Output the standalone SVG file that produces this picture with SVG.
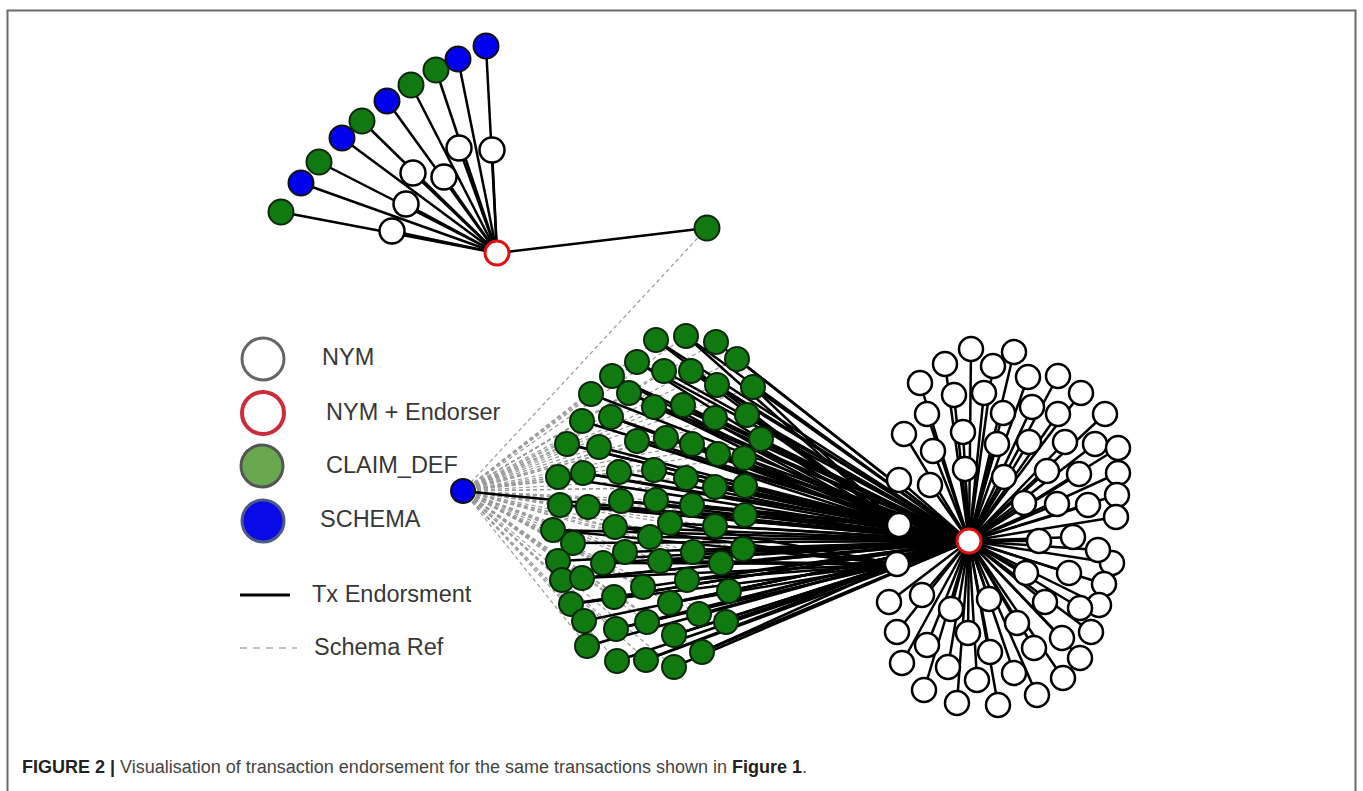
<svg xmlns="http://www.w3.org/2000/svg" width="1363" height="791" viewBox="0 0 1363 791">
<style>
.e{stroke:#000;stroke-width:2.5}
.d{stroke:#999;stroke-width:1.2;stroke-dasharray:4 3;fill:none}
.g{fill:#107a10;stroke:#0c260c;stroke-width:2}
.b{fill:#0000ee;stroke:#111;stroke-width:2}
.w{fill:#fff;stroke:#000;stroke-width:2.5}
.r{fill:#fff;stroke:#e01010;stroke-width:3}
.lt{font-family:"Liberation Sans",Arial,sans-serif;font-size:23.5px;fill:#383838}
.cap{font-family:"Liberation Sans",Arial,sans-serif;font-size:18px;fill:#444}
</style>
<rect width="1363" height="791" fill="#fff"/>
<path d="M7.5 791V10.5H1355.5V791" fill="none" stroke="#6a6a6a" stroke-width="2"/>
<g id="connectors">
<g id="schema-refs">
<line class="d" x1="707" y1="228" x2="463" y2="491"/>
<line class="d" x1="463" y1="491" x2="656" y2="340"/><line class="d" x1="463" y1="491" x2="686" y2="336"/><line class="d" x1="463" y1="491" x2="716" y2="342"/><line class="d" x1="463" y1="491" x2="637" y2="362"/><line class="d" x1="463" y1="491" x2="664" y2="371"/><line class="d" x1="463" y1="491" x2="691" y2="371"/><line class="d" x1="463" y1="491" x2="737" y2="359"/><line class="d" x1="463" y1="491" x2="612" y2="376"/><line class="d" x1="463" y1="491" x2="717" y2="385"/><line class="d" x1="463" y1="491" x2="753" y2="387"/><line class="d" x1="463" y1="491" x2="591" y2="394"/><line class="d" x1="463" y1="491" x2="629" y2="393"/><line class="d" x1="463" y1="491" x2="654" y2="407"/><line class="d" x1="463" y1="491" x2="683" y2="405"/><line class="d" x1="463" y1="491" x2="582" y2="421"/><line class="d" x1="463" y1="491" x2="611" y2="417"/><line class="d" x1="463" y1="491" x2="715" y2="418"/><line class="d" x1="463" y1="491" x2="747" y2="415"/><line class="d" x1="463" y1="491" x2="761" y2="439"/><line class="d" x1="463" y1="491" x2="567" y2="444"/><line class="d" x1="463" y1="491" x2="599" y2="447"/><line class="d" x1="463" y1="491" x2="637" y2="441"/><line class="d" x1="463" y1="491" x2="666" y2="438"/><line class="d" x1="463" y1="491" x2="692" y2="444"/><line class="d" x1="463" y1="491" x2="718" y2="454"/><line class="d" x1="463" y1="491" x2="744" y2="458"/><line class="d" x1="463" y1="491" x2="558" y2="477"/><line class="d" x1="463" y1="491" x2="583" y2="473"/><line class="d" x1="463" y1="491" x2="619" y2="472"/><line class="d" x1="463" y1="491" x2="654" y2="470"/><line class="d" x1="463" y1="491" x2="686" y2="478"/><line class="d" x1="463" y1="491" x2="715" y2="487"/><line class="d" x1="463" y1="491" x2="745" y2="486"/><line class="d" x1="463" y1="491" x2="560" y2="505"/><line class="d" x1="463" y1="491" x2="588" y2="507"/><line class="d" x1="463" y1="491" x2="621" y2="501"/><line class="d" x1="463" y1="491" x2="656" y2="500"/><line class="d" x1="463" y1="491" x2="692" y2="505"/><line class="d" x1="463" y1="491" x2="745" y2="515"/><line class="d" x1="463" y1="491" x2="553" y2="530"/><line class="d" x1="463" y1="491" x2="573" y2="543"/><line class="d" x1="463" y1="491" x2="615" y2="527"/><line class="d" x1="463" y1="491" x2="650" y2="537"/><line class="d" x1="463" y1="491" x2="670" y2="523"/><line class="d" x1="463" y1="491" x2="715" y2="526"/><line class="d" x1="463" y1="491" x2="743" y2="549"/><line class="d" x1="463" y1="491" x2="558" y2="561"/><line class="d" x1="463" y1="491" x2="603" y2="563"/><line class="d" x1="463" y1="491" x2="625" y2="552"/><line class="d" x1="463" y1="491" x2="660" y2="561"/><line class="d" x1="463" y1="491" x2="693" y2="552"/><line class="d" x1="463" y1="491" x2="721" y2="563"/><line class="d" x1="463" y1="491" x2="562" y2="580"/><line class="d" x1="463" y1="491" x2="582" y2="578"/><line class="d" x1="463" y1="491" x2="643" y2="587"/><line class="d" x1="463" y1="491" x2="687" y2="580"/><line class="d" x1="463" y1="491" x2="729" y2="591"/><line class="d" x1="463" y1="491" x2="571" y2="604"/><line class="d" x1="463" y1="491" x2="614" y2="597"/><line class="d" x1="463" y1="491" x2="670" y2="603"/><line class="d" x1="463" y1="491" x2="699" y2="614"/><line class="d" x1="463" y1="491" x2="726" y2="622"/><line class="d" x1="463" y1="491" x2="584" y2="621"/><line class="d" x1="463" y1="491" x2="616" y2="629"/><line class="d" x1="463" y1="491" x2="647" y2="622"/><line class="d" x1="463" y1="491" x2="674" y2="635"/><line class="d" x1="463" y1="491" x2="587" y2="646"/><line class="d" x1="463" y1="491" x2="702" y2="652"/><line class="d" x1="463" y1="491" x2="617" y2="661"/><line class="d" x1="463" y1="491" x2="646" y2="660"/><line class="d" x1="463" y1="491" x2="674" y2="667"/>
</g>
<g id="top-edges">
<line class="e" x1="497" y1="253" x2="281" y2="212"/><line class="e" x1="497" y1="253" x2="301" y2="183"/><line class="e" x1="497" y1="253" x2="319" y2="162"/><line class="e" x1="497" y1="253" x2="342" y2="138"/><line class="e" x1="497" y1="253" x2="362" y2="121"/><line class="e" x1="497" y1="253" x2="387" y2="101"/><line class="e" x1="497" y1="253" x2="411" y2="85"/><line class="e" x1="497" y1="253" x2="436" y2="70"/><line class="e" x1="497" y1="253" x2="458" y2="59"/><line class="e" x1="497" y1="253" x2="486" y2="46"/>
<line class="e" x1="497" y1="253" x2="392" y2="231"/><line class="e" x1="497" y1="253" x2="406" y2="204"/><line class="e" x1="497" y1="253" x2="413" y2="173"/><line class="e" x1="497" y1="253" x2="444" y2="177"/><line class="e" x1="497" y1="253" x2="459" y2="148"/><line class="e" x1="497" y1="253" x2="492" y2="150"/>
<line class="e" x1="497" y1="253" x2="707" y2="228"/>
</g>
<g id="claim-edges">
<line class="e" x1="463" y1="491" x2="969" y2="541"/>
<line class="e" x1="656" y1="340" x2="969" y2="541"/><line class="e" x1="686" y1="336" x2="969" y2="541"/><line class="e" x1="716" y1="342" x2="969" y2="541"/><line class="e" x1="637" y1="362" x2="969" y2="541"/><line class="e" x1="664" y1="371" x2="969" y2="541"/><line class="e" x1="691" y1="371" x2="969" y2="541"/><line class="e" x1="737" y1="359" x2="969" y2="541"/><line class="e" x1="612" y1="376" x2="969" y2="541"/><line class="e" x1="717" y1="385" x2="969" y2="541"/><line class="e" x1="753" y1="387" x2="969" y2="541"/><line class="e" x1="591" y1="394" x2="969" y2="541"/><line class="e" x1="629" y1="393" x2="969" y2="541"/><line class="e" x1="654" y1="407" x2="969" y2="541"/><line class="e" x1="683" y1="405" x2="969" y2="541"/><line class="e" x1="582" y1="421" x2="969" y2="541"/><line class="e" x1="611" y1="417" x2="969" y2="541"/><line class="e" x1="715" y1="418" x2="969" y2="541"/><line class="e" x1="747" y1="415" x2="969" y2="541"/><line class="e" x1="761" y1="439" x2="969" y2="541"/><line class="e" x1="567" y1="444" x2="969" y2="541"/><line class="e" x1="599" y1="447" x2="969" y2="541"/><line class="e" x1="637" y1="441" x2="969" y2="541"/><line class="e" x1="666" y1="438" x2="969" y2="541"/><line class="e" x1="692" y1="444" x2="969" y2="541"/><line class="e" x1="718" y1="454" x2="969" y2="541"/><line class="e" x1="744" y1="458" x2="969" y2="541"/><line class="e" x1="558" y1="477" x2="969" y2="541"/><line class="e" x1="583" y1="473" x2="969" y2="541"/><line class="e" x1="619" y1="472" x2="969" y2="541"/><line class="e" x1="654" y1="470" x2="969" y2="541"/><line class="e" x1="686" y1="478" x2="969" y2="541"/><line class="e" x1="715" y1="487" x2="969" y2="541"/><line class="e" x1="745" y1="486" x2="969" y2="541"/><line class="e" x1="560" y1="505" x2="969" y2="541"/><line class="e" x1="588" y1="507" x2="969" y2="541"/><line class="e" x1="621" y1="501" x2="969" y2="541"/><line class="e" x1="656" y1="500" x2="969" y2="541"/><line class="e" x1="692" y1="505" x2="969" y2="541"/><line class="e" x1="745" y1="515" x2="969" y2="541"/><line class="e" x1="553" y1="530" x2="969" y2="541"/><line class="e" x1="573" y1="543" x2="969" y2="541"/><line class="e" x1="615" y1="527" x2="969" y2="541"/><line class="e" x1="650" y1="537" x2="969" y2="541"/><line class="e" x1="670" y1="523" x2="969" y2="541"/><line class="e" x1="715" y1="526" x2="969" y2="541"/><line class="e" x1="743" y1="549" x2="969" y2="541"/><line class="e" x1="558" y1="561" x2="969" y2="541"/><line class="e" x1="603" y1="563" x2="969" y2="541"/><line class="e" x1="625" y1="552" x2="969" y2="541"/><line class="e" x1="660" y1="561" x2="969" y2="541"/><line class="e" x1="693" y1="552" x2="969" y2="541"/><line class="e" x1="721" y1="563" x2="969" y2="541"/><line class="e" x1="562" y1="580" x2="969" y2="541"/><line class="e" x1="582" y1="578" x2="969" y2="541"/><line class="e" x1="643" y1="587" x2="969" y2="541"/><line class="e" x1="687" y1="580" x2="969" y2="541"/><line class="e" x1="729" y1="591" x2="969" y2="541"/><line class="e" x1="571" y1="604" x2="969" y2="541"/><line class="e" x1="614" y1="597" x2="969" y2="541"/><line class="e" x1="670" y1="603" x2="969" y2="541"/><line class="e" x1="699" y1="614" x2="969" y2="541"/><line class="e" x1="726" y1="622" x2="969" y2="541"/><line class="e" x1="584" y1="621" x2="969" y2="541"/><line class="e" x1="616" y1="629" x2="969" y2="541"/><line class="e" x1="647" y1="622" x2="969" y2="541"/><line class="e" x1="674" y1="635" x2="969" y2="541"/><line class="e" x1="587" y1="646" x2="969" y2="541"/><line class="e" x1="702" y1="652" x2="969" y2="541"/><line class="e" x1="617" y1="661" x2="969" y2="541"/><line class="e" x1="646" y1="660" x2="969" y2="541"/><line class="e" x1="674" y1="667" x2="969" y2="541"/>
<line class="e" x1="656" y1="340" x2="899" y2="525"/><line class="e" x1="686" y1="336" x2="899" y2="525"/><line class="e" x1="637" y1="362" x2="899" y2="525"/><line class="e" x1="691" y1="371" x2="899" y2="525"/><line class="e" x1="612" y1="376" x2="899" y2="525"/><line class="e" x1="753" y1="387" x2="899" y2="525"/><line class="e" x1="629" y1="393" x2="899" y2="525"/><line class="e" x1="683" y1="405" x2="899" y2="525"/><line class="e" x1="611" y1="417" x2="899" y2="525"/><line class="e" x1="747" y1="415" x2="899" y2="525"/><line class="e" x1="567" y1="444" x2="899" y2="525"/><line class="e" x1="637" y1="441" x2="899" y2="525"/><line class="e" x1="692" y1="444" x2="899" y2="525"/><line class="e" x1="744" y1="458" x2="899" y2="525"/><line class="e" x1="583" y1="473" x2="899" y2="525"/><line class="e" x1="654" y1="470" x2="899" y2="525"/><line class="e" x1="715" y1="487" x2="899" y2="525"/><line class="e" x1="560" y1="505" x2="899" y2="525"/><line class="e" x1="621" y1="501" x2="899" y2="525"/><line class="e" x1="692" y1="505" x2="899" y2="525"/>
<line class="e" x1="553" y1="530" x2="897" y2="564"/><line class="e" x1="615" y1="527" x2="897" y2="564"/><line class="e" x1="670" y1="523" x2="897" y2="564"/><line class="e" x1="743" y1="549" x2="897" y2="564"/><line class="e" x1="603" y1="563" x2="897" y2="564"/><line class="e" x1="660" y1="561" x2="897" y2="564"/><line class="e" x1="721" y1="563" x2="897" y2="564"/><line class="e" x1="582" y1="578" x2="897" y2="564"/><line class="e" x1="687" y1="580" x2="897" y2="564"/><line class="e" x1="571" y1="604" x2="897" y2="564"/><line class="e" x1="670" y1="603" x2="897" y2="564"/><line class="e" x1="726" y1="622" x2="897" y2="564"/><line class="e" x1="616" y1="629" x2="897" y2="564"/><line class="e" x1="674" y1="635" x2="897" y2="564"/><line class="e" x1="702" y1="652" x2="897" y2="564"/><line class="e" x1="646" y1="660" x2="897" y2="564"/>
<line class="e" x1="899" y1="525" x2="969" y2="541"/><line class="e" x1="897" y1="564" x2="969" y2="541"/>
</g>
<g id="nym-edges">
<line class="e" x1="969" y1="541" x2="971" y2="349"/><line class="e" x1="969" y1="541" x2="1014" y2="352"/><line class="e" x1="969" y1="541" x2="945" y2="364"/><line class="e" x1="969" y1="541" x2="993" y2="366"/><line class="e" x1="969" y1="541" x2="920" y2="383"/><line class="e" x1="969" y1="541" x2="1028" y2="377"/><line class="e" x1="969" y1="541" x2="1058" y2="376"/><line class="e" x1="969" y1="541" x2="954" y2="395"/><line class="e" x1="969" y1="541" x2="984" y2="393"/><line class="e" x1="969" y1="541" x2="1081" y2="393"/><line class="e" x1="969" y1="541" x2="927" y2="414"/><line class="e" x1="969" y1="541" x2="1003" y2="413"/><line class="e" x1="969" y1="541" x2="1032" y2="407"/><line class="e" x1="969" y1="541" x2="1058" y2="414"/><line class="e" x1="969" y1="541" x2="1105" y2="414"/><line class="e" x1="969" y1="541" x2="904" y2="434"/><line class="e" x1="969" y1="541" x2="963" y2="432"/><line class="e" x1="969" y1="541" x2="997" y2="444"/><line class="e" x1="969" y1="541" x2="1029" y2="442"/><line class="e" x1="969" y1="541" x2="1065" y2="442"/><line class="e" x1="969" y1="541" x2="1095" y2="444"/><line class="e" x1="969" y1="541" x2="1118" y2="448"/><line class="e" x1="969" y1="541" x2="933" y2="451"/><line class="e" x1="969" y1="541" x2="965" y2="469"/><line class="e" x1="969" y1="541" x2="1004" y2="477"/><line class="e" x1="969" y1="541" x2="1047" y2="471"/><line class="e" x1="969" y1="541" x2="1079" y2="474"/><line class="e" x1="969" y1="541" x2="1118" y2="473"/><line class="e" x1="969" y1="541" x2="899" y2="480"/><line class="e" x1="969" y1="541" x2="930" y2="485"/><line class="e" x1="969" y1="541" x2="1024" y2="503"/><line class="e" x1="969" y1="541" x2="1057" y2="504"/><line class="e" x1="969" y1="541" x2="1088" y2="505"/><line class="e" x1="969" y1="541" x2="1117" y2="495"/><line class="e" x1="969" y1="541" x2="1116" y2="517"/>
<line class="e" x1="969" y1="541" x2="1039" y2="541"/><line class="e" x1="969" y1="541" x2="1073" y2="537"/><line class="e" x1="969" y1="541" x2="1098" y2="550"/><line class="e" x1="969" y1="541" x2="1112" y2="563"/><line class="e" x1="969" y1="541" x2="1026" y2="573"/><line class="e" x1="969" y1="541" x2="1069" y2="573"/><line class="e" x1="969" y1="541" x2="1104" y2="584"/><line class="e" x1="969" y1="541" x2="1099" y2="605"/><line class="e" x1="969" y1="541" x2="1080" y2="608"/><line class="e" x1="969" y1="541" x2="1045" y2="602"/><line class="e" x1="969" y1="541" x2="922" y2="595"/><line class="e" x1="969" y1="541" x2="889" y2="602"/><line class="e" x1="969" y1="541" x2="951" y2="609"/><line class="e" x1="969" y1="541" x2="989" y2="599"/><line class="e" x1="969" y1="541" x2="1017" y2="623"/><line class="e" x1="969" y1="541" x2="1062" y2="638"/><line class="e" x1="969" y1="541" x2="1091" y2="632"/><line class="e" x1="969" y1="541" x2="897" y2="632"/><line class="e" x1="969" y1="541" x2="927" y2="645"/><line class="e" x1="969" y1="541" x2="968" y2="633"/><line class="e" x1="969" y1="541" x2="990" y2="652"/><line class="e" x1="969" y1="541" x2="1034" y2="648"/><line class="e" x1="969" y1="541" x2="1080" y2="658"/><line class="e" x1="969" y1="541" x2="902" y2="663"/><line class="e" x1="969" y1="541" x2="948" y2="667"/><line class="e" x1="969" y1="541" x2="977" y2="680"/><line class="e" x1="969" y1="541" x2="1014" y2="673"/><line class="e" x1="969" y1="541" x2="1063" y2="678"/><line class="e" x1="969" y1="541" x2="924" y2="690"/><line class="e" x1="969" y1="541" x2="957" y2="703"/><line class="e" x1="969" y1="541" x2="998" y2="705"/><line class="e" x1="969" y1="541" x2="1037" y2="695"/>
</g>
</g>
<g id="top-cluster">
<g id="t-hub"><circle class="r" cx="497" cy="253" r="12"/></g>
<g id="t1"><circle class="g" cx="281" cy="212" r="12.5"/></g>
<g id="t2"><circle class="b" cx="301" cy="183" r="12.5"/></g>
<g id="t3"><circle class="g" cx="319" cy="162" r="12.5"/></g>
<g id="t4"><circle class="b" cx="342" cy="138" r="12.5"/></g>
<g id="t5"><circle class="g" cx="362" cy="121" r="12.5"/></g>
<g id="t6"><circle class="b" cx="387" cy="101" r="12.5"/></g>
<g id="t7"><circle class="g" cx="411" cy="85" r="12.5"/></g>
<g id="t8"><circle class="g" cx="436" cy="70" r="12.5"/></g>
<g id="t9"><circle class="b" cx="458" cy="59" r="12.5"/></g>
<g id="t10"><circle class="b" cx="486" cy="46" r="12.5"/></g>
<g id="tw1"><circle class="w" cx="392" cy="231" r="12.5"/></g>
<g id="tw2"><circle class="w" cx="406" cy="204" r="12.5"/></g>
<g id="tw3"><circle class="w" cx="413" cy="173" r="12.5"/></g>
<g id="tw4"><circle class="w" cx="444" cy="177" r="12.5"/></g>
<g id="tw5"><circle class="w" cx="459" cy="148" r="12.5"/></g>
<g id="tw6"><circle class="w" cx="492" cy="150" r="12.5"/></g>
<g id="t-right"><circle class="g" cx="707" cy="228" r="12.5"/></g>
</g>
<g id="schema"><circle class="b" cx="463" cy="491" r="12"/></g>
<g id="claim-defs">
<g id="c1"><circle class="g" cx="656" cy="340" r="12"/></g><g id="c2"><circle class="g" cx="686" cy="336" r="12"/></g><g id="c3"><circle class="g" cx="716" cy="342" r="12"/></g><g id="c4"><circle class="g" cx="637" cy="362" r="12"/></g><g id="c5"><circle class="g" cx="664" cy="371" r="12"/></g><g id="c6"><circle class="g" cx="691" cy="371" r="12"/></g><g id="c7"><circle class="g" cx="737" cy="359" r="12"/></g><g id="c8"><circle class="g" cx="612" cy="376" r="12"/></g><g id="c9"><circle class="g" cx="717" cy="385" r="12"/></g><g id="c10"><circle class="g" cx="753" cy="387" r="12"/></g>
<g id="c11"><circle class="g" cx="591" cy="394" r="12"/></g><g id="c12"><circle class="g" cx="629" cy="393" r="12"/></g><g id="c13"><circle class="g" cx="654" cy="407" r="12"/></g><g id="c14"><circle class="g" cx="683" cy="405" r="12"/></g><g id="c15"><circle class="g" cx="582" cy="421" r="12"/></g><g id="c16"><circle class="g" cx="611" cy="417" r="12"/></g><g id="c17"><circle class="g" cx="715" cy="418" r="12"/></g><g id="c18"><circle class="g" cx="747" cy="415" r="12"/></g><g id="c19"><circle class="g" cx="761" cy="439" r="12"/></g><g id="c20"><circle class="g" cx="567" cy="444" r="12"/></g>
<g id="c21"><circle class="g" cx="599" cy="447" r="12"/></g><g id="c22"><circle class="g" cx="637" cy="441" r="12"/></g><g id="c23"><circle class="g" cx="666" cy="438" r="12"/></g><g id="c24"><circle class="g" cx="692" cy="444" r="12"/></g><g id="c25"><circle class="g" cx="718" cy="454" r="12"/></g><g id="c26"><circle class="g" cx="744" cy="458" r="12"/></g><g id="c27"><circle class="g" cx="558" cy="477" r="12"/></g><g id="c28"><circle class="g" cx="583" cy="473" r="12"/></g><g id="c29"><circle class="g" cx="619" cy="472" r="12"/></g><g id="c30"><circle class="g" cx="654" cy="470" r="12"/></g>
<g id="c31"><circle class="g" cx="686" cy="478" r="12"/></g><g id="c32"><circle class="g" cx="715" cy="487" r="12"/></g><g id="c33"><circle class="g" cx="745" cy="486" r="12"/></g><g id="c34"><circle class="g" cx="560" cy="505" r="12"/></g><g id="c35"><circle class="g" cx="588" cy="507" r="12"/></g><g id="c36"><circle class="g" cx="621" cy="501" r="12"/></g><g id="c37"><circle class="g" cx="656" cy="500" r="12"/></g><g id="c38"><circle class="g" cx="692" cy="505" r="12"/></g><g id="c39"><circle class="g" cx="745" cy="515" r="12"/></g><g id="c40"><circle class="g" cx="553" cy="530" r="12"/></g>
<g id="c41"><circle class="g" cx="573" cy="543" r="12"/></g><g id="c42"><circle class="g" cx="615" cy="527" r="12"/></g><g id="c43"><circle class="g" cx="650" cy="537" r="12"/></g><g id="c44"><circle class="g" cx="670" cy="523" r="12"/></g><g id="c45"><circle class="g" cx="715" cy="526" r="12"/></g><g id="c46"><circle class="g" cx="743" cy="549" r="12"/></g><g id="c47"><circle class="g" cx="558" cy="561" r="12"/></g><g id="c48"><circle class="g" cx="603" cy="563" r="12"/></g><g id="c49"><circle class="g" cx="625" cy="552" r="12"/></g><g id="c50"><circle class="g" cx="660" cy="561" r="12"/></g>
<g id="c51"><circle class="g" cx="693" cy="552" r="12"/></g><g id="c52"><circle class="g" cx="721" cy="563" r="12"/></g><g id="c53"><circle class="g" cx="562" cy="580" r="12"/></g><g id="c54"><circle class="g" cx="582" cy="578" r="12"/></g><g id="c55"><circle class="g" cx="643" cy="587" r="12"/></g><g id="c56"><circle class="g" cx="687" cy="580" r="12"/></g><g id="c57"><circle class="g" cx="729" cy="591" r="12"/></g><g id="c58"><circle class="g" cx="571" cy="604" r="12"/></g><g id="c59"><circle class="g" cx="614" cy="597" r="12"/></g><g id="c60"><circle class="g" cx="670" cy="603" r="12"/></g>
<g id="c61"><circle class="g" cx="699" cy="614" r="12"/></g><g id="c62"><circle class="g" cx="726" cy="622" r="12"/></g><g id="c63"><circle class="g" cx="584" cy="621" r="12"/></g><g id="c64"><circle class="g" cx="616" cy="629" r="12"/></g><g id="c65"><circle class="g" cx="647" cy="622" r="12"/></g><g id="c66"><circle class="g" cx="674" cy="635" r="12"/></g><g id="c67"><circle class="g" cx="587" cy="646" r="12"/></g><g id="c68"><circle class="g" cx="702" cy="652" r="12"/></g><g id="c69"><circle class="g" cx="617" cy="661" r="12"/></g><g id="c70"><circle class="g" cx="646" cy="660" r="12"/></g>
<g id="c71"><circle class="g" cx="674" cy="667" r="12"/></g>
</g>
<g id="nyms">
<g id="a1"><circle class="w" cx="899" cy="525" r="12"/></g>
<g id="a2"><circle class="w" cx="897" cy="564" r="12"/></g>
<g id="n1"><circle class="w" cx="971" cy="349" r="12"/></g><g id="n2"><circle class="w" cx="1014" cy="352" r="12"/></g><g id="n3"><circle class="w" cx="945" cy="364" r="12"/></g><g id="n4"><circle class="w" cx="993" cy="366" r="12"/></g><g id="n5"><circle class="w" cx="920" cy="383" r="12"/></g><g id="n6"><circle class="w" cx="1028" cy="377" r="12"/></g><g id="n7"><circle class="w" cx="1058" cy="376" r="12"/></g><g id="n8"><circle class="w" cx="954" cy="395" r="12"/></g><g id="n9"><circle class="w" cx="984" cy="393" r="12"/></g><g id="n10"><circle class="w" cx="1081" cy="393" r="12"/></g>
<g id="n11"><circle class="w" cx="927" cy="414" r="12"/></g><g id="n12"><circle class="w" cx="1003" cy="413" r="12"/></g><g id="n13"><circle class="w" cx="1032" cy="407" r="12"/></g><g id="n14"><circle class="w" cx="1058" cy="414" r="12"/></g><g id="n15"><circle class="w" cx="1105" cy="414" r="12"/></g><g id="n16"><circle class="w" cx="904" cy="434" r="12"/></g><g id="n17"><circle class="w" cx="963" cy="432" r="12"/></g><g id="n18"><circle class="w" cx="997" cy="444" r="12"/></g><g id="n19"><circle class="w" cx="1029" cy="442" r="12"/></g><g id="n20"><circle class="w" cx="1065" cy="442" r="12"/></g>
<g id="n21"><circle class="w" cx="1095" cy="444" r="12"/></g><g id="n22"><circle class="w" cx="1118" cy="448" r="12"/></g><g id="n23"><circle class="w" cx="933" cy="451" r="12"/></g><g id="n24"><circle class="w" cx="965" cy="469" r="12"/></g><g id="n25"><circle class="w" cx="1004" cy="477" r="12"/></g><g id="n26"><circle class="w" cx="1047" cy="471" r="12"/></g><g id="n27"><circle class="w" cx="1079" cy="474" r="12"/></g><g id="n28"><circle class="w" cx="1118" cy="473" r="12"/></g><g id="n29"><circle class="w" cx="899" cy="480" r="12"/></g><g id="n30"><circle class="w" cx="930" cy="485" r="12"/></g>
<g id="n31"><circle class="w" cx="1024" cy="503" r="12"/></g><g id="n32"><circle class="w" cx="1057" cy="504" r="12"/></g><g id="n33"><circle class="w" cx="1088" cy="505" r="12"/></g><g id="n34"><circle class="w" cx="1117" cy="495" r="12"/></g><g id="n35"><circle class="w" cx="1116" cy="517" r="12"/></g><g id="n36"><circle class="w" cx="1039" cy="541" r="12"/></g><g id="n37"><circle class="w" cx="1073" cy="537" r="12"/></g><g id="n39"><circle class="w" cx="1112" cy="563" r="12"/></g><g id="n38"><circle class="w" cx="1098" cy="550" r="12"/></g><g id="n40"><circle class="w" cx="1026" cy="573" r="12"/></g>
<g id="n41"><circle class="w" cx="1069" cy="573" r="12"/></g><g id="n42"><circle class="w" cx="1104" cy="584" r="12"/></g><g id="n43"><circle class="w" cx="1099" cy="605" r="12"/></g><g id="n44"><circle class="w" cx="1080" cy="608" r="12"/></g><g id="n45"><circle class="w" cx="1045" cy="602" r="12"/></g><g id="n46"><circle class="w" cx="922" cy="595" r="12"/></g><g id="n47"><circle class="w" cx="889" cy="602" r="12"/></g><g id="n48"><circle class="w" cx="951" cy="609" r="12"/></g><g id="n49"><circle class="w" cx="989" cy="599" r="12"/></g><g id="n50"><circle class="w" cx="1017" cy="623" r="12"/></g>
<g id="n51"><circle class="w" cx="1062" cy="638" r="12"/></g><g id="n52"><circle class="w" cx="1091" cy="632" r="12"/></g><g id="n53"><circle class="w" cx="897" cy="632" r="12"/></g><g id="n54"><circle class="w" cx="927" cy="645" r="12"/></g><g id="n55"><circle class="w" cx="968" cy="633" r="12"/></g><g id="n56"><circle class="w" cx="990" cy="652" r="12"/></g><g id="n57"><circle class="w" cx="1034" cy="648" r="12"/></g><g id="n58"><circle class="w" cx="1080" cy="658" r="12"/></g><g id="n59"><circle class="w" cx="902" cy="663" r="12"/></g><g id="n60"><circle class="w" cx="948" cy="667" r="12"/></g>
<g id="n61"><circle class="w" cx="977" cy="680" r="12"/></g><g id="n62"><circle class="w" cx="1014" cy="673" r="12"/></g><g id="n63"><circle class="w" cx="1063" cy="678" r="12"/></g><g id="n64"><circle class="w" cx="924" cy="690" r="12"/></g><g id="n65"><circle class="w" cx="957" cy="703" r="12"/></g><g id="n66"><circle class="w" cx="998" cy="705" r="12"/></g><g id="n67"><circle class="w" cx="1037" cy="695" r="12"/></g>
</g>
<g id="endorser"><circle class="r" cx="969" cy="541" r="12"/></g>
<g id="legend">
<circle cx="263" cy="359" r="21" fill="#fff" stroke="#666" stroke-width="3"/>
<circle cx="263" cy="413" r="21" fill="#fff" stroke="#cc2b3a" stroke-width="4"/>
<circle cx="262" cy="466" r="21" fill="#6aa84f" stroke="#555" stroke-width="3"/>
<circle cx="263" cy="521" r="21" fill="#0a0ae8" stroke="#4e5a86" stroke-width="3"/>
<line x1="240" y1="595" x2="290" y2="595" stroke="#000" stroke-width="3"/>
<line x1="240" y1="648" x2="297" y2="648" stroke="#aaa" stroke-width="1.5" stroke-dasharray="7 6"/>
<text class="lt" x="322" y="365">NYM</text>
<text class="lt" x="326" y="420">NYM + Endorser</text>
<text class="lt" x="326" y="473">CLAIM_DEF</text>
<text class="lt" x="320" y="527">SCHEMA</text>
<text class="lt" x="312" y="602">Tx Endorsment</text>
<text class="lt" x="314" y="655">Schema Ref</text>
</g>
<text class="cap" x="22" y="773"><tspan font-weight="bold" fill="#222">FIGURE 2 |</tspan> Visualisation of transaction endorsement for the same transactions shown in <tspan font-weight="bold" fill="#222">Figure 1</tspan>.</text>
</svg>
